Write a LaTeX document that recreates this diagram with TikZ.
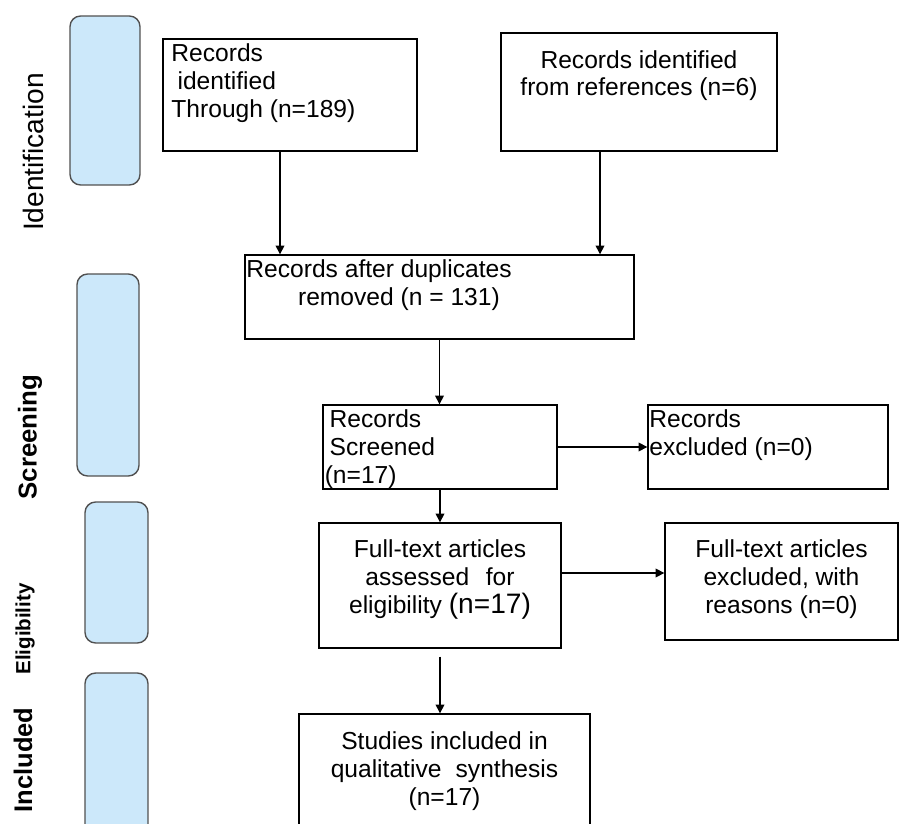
\documentclass[tikz,border=0pt]{standalone}
\usepackage{fontspec}
\setmainfont{Liberation Sans}
\usetikzlibrary{arrows.meta}
\definecolor{phasefill}{HTML}{CCE8FA}
\definecolor{phaseline}{HTML}{505050}

\begin{document}
\begin{tikzpicture}[x=0.02cm,y=-0.02cm,
  box/.style={draw,line width=0.8pt,inner sep=0pt},
  phase/.style={draw=phaseline,fill=phasefill,rounded corners=6pt,line width=0.8pt,inner sep=0pt},
  txt/.style={font=\fontsize{14}{15.9}\selectfont,inner sep=0pt},
  arr/.style={line width=0.8pt,-{Triangle[length=5pt,width=5pt]}}]
\clip (0,0) rectangle (899,824);
% phase bars
\node[phase,minimum width=1.40cm,minimum height=3.38cm] (p1) at (105,100.5) {};
\node[phase,minimum width=1.24cm,minimum height=4.04cm] (p2) at (108,375) {};
\node[phase,minimum width=1.26cm,minimum height=2.82cm] (p3) at (116.5,572.5) {};
\node[phase,minimum width=1.26cm,minimum height=3.48cm] (p4) at (116.5,760) {};
\node[rotate=90,font=\fontsize{16}{18}\selectfont] (lid) at (33,152) {Identification};
\node[rotate=90,font=\fontsize{14.7}{16}\selectfont\bfseries] (lscr) at (30,437) {Screening};
\node[rotate=90,font=\fontsize{11.7}{13}\selectfont\bfseries] (lelig) at (25,629) {Eligibility};
\node[rotate=90,font=\fontsize{14.5}{16}\selectfont\bfseries] (lincl) at (23,760) {Included};
% boxes
\node[box,minimum width=5.08cm,minimum height=2.24cm,
  label={[txt,anchor=north west,align=left,xshift=5pt,yshift=-3pt]north west:{Records\\\hspace*{0.25em}identified\\Through (n=189)}}] (A) at (290,95) {};
\node[box,minimum width=5.52cm,minimum height=2.36cm,
  label={[txt,anchor=north,align=center,yshift=-10pt]north:{Records identified\\from references (n=6)}}] (B) at (639,92) {};
\node[box,minimum width=7.78cm,minimum height=1.68cm,
  label={[txt,anchor=north west,align=left,xshift=1pt,yshift=-3pt]north west:{Records after duplicates\\\hspace*{2.1em}removed (n = 131)}}] (C) at (439.5,297) {};
\node[box,minimum width=4.68cm,minimum height=1.68cm,
  label={[txt,anchor=north west,align=left,xshift=4pt,yshift=-3pt]north west:{Records\\Screened\\\hspace*{-0.2em}(n=17)}}] (D) at (440,447) {};
\node[box,minimum width=4.80cm,minimum height=1.68cm,
  label={[txt,anchor=north west,align=left,xshift=1pt,yshift=-3pt]north west:{Records\\excluded (n=0)}}] (E) at (768,447) {};
\node[box,minimum width=4.84cm,minimum height=2.50cm,
  label={[txt,anchor=north,align=center,yshift=-9.5pt]north:{Full-text articles\\assessed\hspace{0.4em} for\\eligibility {\fontsize{16}{15.9}\selectfont(n=17)}}}] (F) at (440,585.5) {};
\node[box,minimum width=4.66cm,minimum height=2.34cm,
  label={[txt,anchor=north,align=center,yshift=-9.5pt]north:{Full-text articles\\excluded, with\\reasons (n=0)}}] (G) at (781.5,581.5) {};
\node[box,minimum width=5.82cm,minimum height=2.32cm,
  label={[txt,anchor=north,align=center,yshift=-10.5pt]north:{Studies included in\\qualitative\hspace{0.3em} synthesis\\(n=17)}}] (H) at (444.5,772) {};
% arrows
\draw[arr] ([xshift=-0.2cm]A.south) -- ([xshift=-0.2cm]A.south |- C.north);
\draw[arr] ([xshift=-0.78cm]B.south) -- ([xshift=-0.78cm]B.south |- C.north);
\draw[arr] (C.south) -- (C.south |- D.north);
\draw[arr] (D.east) -- (E.west);
\draw[arr] (D.south) -- (F.north);
\draw[arr] ([yshift=0.25cm]F.east) -- ([yshift=0.25cm]F.east -| G.west);
\draw[arr] ([yshift=-0.16cm]F.south) -- (F.south |- H.north);
\end{tikzpicture}
\end{document}
